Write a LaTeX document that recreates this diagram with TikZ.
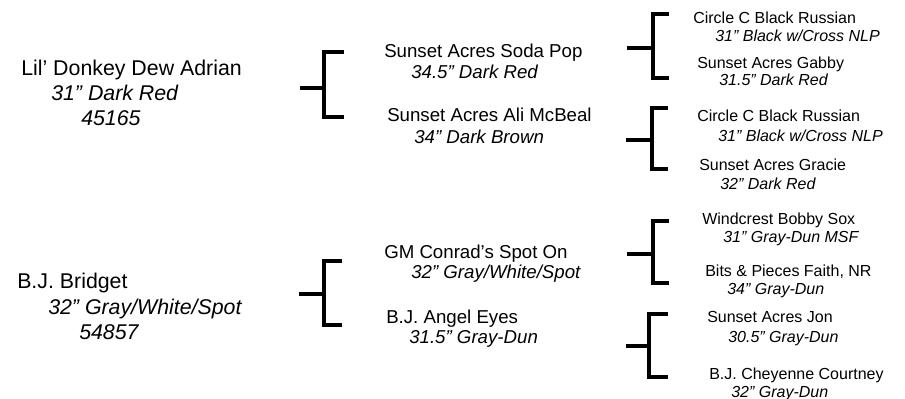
\documentclass[tikz,border=0pt]{standalone}
\usepackage{fontspec}
\setmainfont{Liberation Sans}
\usepackage{tikz}
\newcommand*{\bracket}[7]{%
  \coordinate (#1-in)   at (#2,#6);
  \coordinate (#1-mid)  at (#3,#6);
  \coordinate (#1-up)   at (#3,#5);
  \coordinate (#1-down) at (#3,#7);
  \coordinate (#1-top)  at (#4,#5);
  \coordinate (#1-bot)  at (#4,#7);
  \draw [bracket] (#1-top) -- (#1-up) -- (#1-down) -- (#1-bot);
  \draw [bracket] (#1-in) -- (#1-mid);
}

\begin{document}
\begin{tikzpicture}[x=0.75pt, y=-0.75pt,
    bracket/.style = {line width=3pt, line join=miter},
    bigname/.style = {anchor=base west, inner sep=0pt,
                      font=\fontsize{16}{19}\selectfont},
    bigdetail/.style = {bigname, font=\fontsize{16}{19}\selectfont\itshape},
    midname/.style = {anchor=base west, inner sep=0pt,
                      font=\fontsize{14}{17}\selectfont},
    middetail/.style = {midname, font=\fontsize{14}{17}\selectfont\itshape},
    smallname/.style = {anchor=base west, inner sep=0pt,
                        font=\fontsize{12}{14}\selectfont},
    smalldetail/.style = {smallname, font=\fontsize{12}{14}\selectfont\itshape}]
    \useasboundingbox (0,0) rectangle (905,399);
    % foal
    \node [bigname]   (adrian)     at (21,76)  {Lil’ Donkey Dew Adrian};
    \node [bigdetail] (adrian-ht)  at (51,101) {31” Dark Red};
    \node [bigdetail] (adrian-no)  at (81,126) {45165};
    \node [bigname]   (bridget)    at (17,288) {B.J. Bridget};
    \node [bigdetail] (bridget-ht) at (48,314) {32” Gray/White/Spot};
    \node [bigdetail] (bridget-no) at (79,339) {54857};
    % parents
    \node [midname]   (sodapop)      at (384,58)  {Sunset Acres Soda Pop};
    \node [middetail] (sodapop-ht)   at (411,79)  {34.5” Dark Red};
    \node [midname]   (alimcbeal)    at (387,122) {Sunset Acres Ali McBeal};
    \node [middetail] (alimcbeal-ht) at (414,143) {34” Dark Brown};
    \node [midname]   (spoton)       at (384,258) {GM Conrad’s Spot On};
    \node [middetail] (spoton-ht)    at (411,278) {32” Gray/White/Spot};
    \node [midname]   (angeleyes)    at (386,323) {B.J. Angel Eyes};
    \node [middetail] (angeleyes-ht) at (409,343) {31.5” Gray-Dun};
    % grandparents
    \node [smallname]   (russian)     at (693,24)  {Circle C Black Russian};
    \node [smalldetail] (russian-ht)  at (715,42)  {31” Black w/Cross NLP};
    \node [smallname]   (gabby)       at (697,69)  {Sunset Acres Gabby};
    \node [smalldetail] (gabby-ht)    at (719,86)  {31.5” Dark Red};
    \node [smallname]   (russianb)    at (697,122) {Circle C Black Russian};
    \node [smalldetail] (russianb-ht) at (718,142) {31” Black w/Cross NLP};
    \node [smallname]   (gracie)      at (699,171) {Sunset Acres Gracie};
    \node [smalldetail] (gracie-ht)   at (720,189) {32” Dark Red};
    \node [smallname]   (bobbysox)    at (702,224) {Windcrest Bobby Sox};
    \node [smalldetail] (bobbysox-ht) at (723,242) {31” Gray-Dun MSF};
    \node [smallname]   (faith)       at (705,276) {Bits \& Pieces Faith, NR};
    \node [smalldetail] (faith-ht)    at (727,294) {34” Gray-Dun};
    \node [smallname]   (jon)         at (707,322) {Sunset Acres Jon};
    \node [smalldetail] (jon-ht)      at (728,342) {30.5” Gray-Dun};
    \node [smallname]   (cheyenne)    at (709,379) {B.J. Cheyenne Courtney};
    \node [smalldetail] (cheyenne-ht) at (731,397) {32” Gray-Dun};
    % brackets
    \bracket{adrian-b}{300}{324}{344}{52}{88}{117}
    \bracket{bridget-b}{299}{323.5}{342}{261}{294}{325}
    \bracket{sodapop-b}{627}{652.5}{669}{14}{48}{78}
    \bracket{alimcbeal-b}{626}{652}{668}{108}{140}{169}
    \bracket{spoton-b}{627}{652.5}{669}{221}{254}{283}
    \bracket{angeleyes-b}{626}{649}{668}{314}{346}{377}
\end{tikzpicture}
\end{document}
